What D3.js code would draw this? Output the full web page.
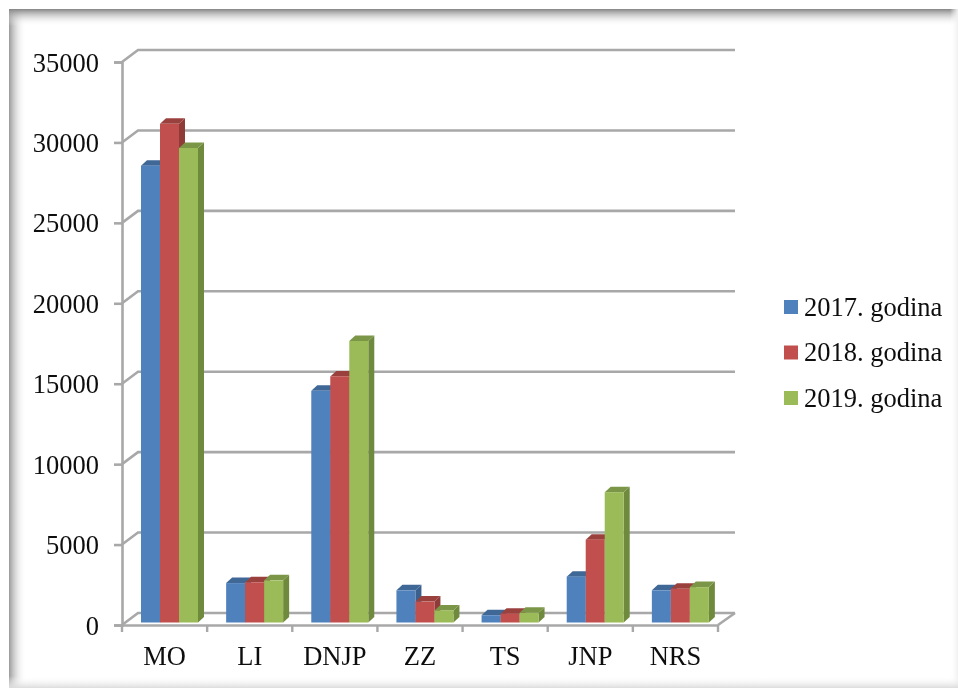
<!DOCTYPE html>
<html>
<head>
<meta charset="utf-8">
<script src="https://cdn.jsdelivr.net/npm/d3@7"></script>
<style>
html, body { margin: 0; padding: 0; background: #fff; }
svg { display: block; }
text { font-family: "Liberation Serif", serif; fill: #111; }
</style>
</head>
<body>
<script>
var categories = ['MO', 'LI', 'DNJP', 'ZZ', 'TS', 'JNP', 'NRS'];
var seriesNames = ['2017. godina', '2018. godina', '2019. godina'];
var seriesColors = ['#4f81bd', '#c0504d', '#9bbb59'];
var sideColors = ['#3b618e', '#8f3b39', '#6f8a3e'];
var topColors = ['#3f6797', '#9a403e', '#7c9647'];
var values2017 = [28400, 2450, 14400, 2000, 450, 2850, 2000];
var values2018 = [31000, 2500, 15300, 1300, 550, 5150, 2100];
var values2019 = [29500, 2620, 17500, 750, 600, 8100, 2200];
var yTicks = [0, 5000, 10000, 15000, 20000, 25000, 30000, 35000];

var width = 958, height = 688;
var depthX = 16, depthY = 12;   // back wall offset
var barDepthX = 6, barDepthY = 5.5;
var gridColor = '#a8a8a8';

var svg = d3.select('body').append('svg')
	.attr('width', width)
	.attr('height', height);

var defs = svg.append('defs');
defs.append('filter').attr('id', 'soft')
	.append('feGaussianBlur').attr('stdDeviation', 0.7);

function fade(id, x1, y1, x2, y2, from, to) {
	var g = defs.append('linearGradient').attr('id', id)
		.attr('x1', x1).attr('y1', y1).attr('x2', x2).attr('y2', y2);
	g.append('stop').attr('offset', 0).attr('stop-color', from);
	g.append('stop').attr('offset', 1).attr('stop-color', to);
}
fade('edgeLeft', 0, 0, 1, 0, '#9a9a9a', 'rgba(255,255,255,0)');
fade('edgeTop', 0, 0, 0, 1, '#858585', 'rgba(255,255,255,0)');
fade('edgeRight', 1, 0, 0, 0, '#f0f0f0', 'rgba(255,255,255,0)');
fade('edgeBottom', 0, 1, 0, 0, '#dcdcdc', 'rgba(255,255,255,0)');

// picture frame shadow
var frame = svg.append('g');
frame.append('rect').attr('x', 9).attr('y', 9).attr('width', 17).attr('height', height - 9).attr('fill', 'url(#edgeLeft)');
frame.append('rect').attr('x', 9).attr('y', 9).attr('width', width - 9).attr('height', 17).attr('fill', 'url(#edgeTop)');
frame.append('rect').attr('x', width - 8).attr('y', 9).attr('width', 8).attr('height', height - 9).attr('fill', 'url(#edgeRight)');
frame.append('rect').attr('x', 9).attr('y', height - 12).attr('width', width - 9).attr('height', 12).attr('fill', 'url(#edgeBottom)');

var x = d3.scaleBand().domain(categories).range([122, 718]);
var y = d3.scaleLinear().domain([0, 35000]).range([625, 62]);
var series = d3.scaleBand().domain(seriesNames).range([19, 76]);

var chart = svg.append('g').attr('filter', 'url(#soft)');

// back wall gridlines and the diagonals down to the front axis
var grid = chart.append('g').attr('stroke', gridColor).attr('stroke-width', 2.6).attr('fill', 'none');
grid.selectAll('path').data(yTicks).enter().append('path')
	.attr('d', function(d) {
		var path = d3.path();
		path.moveTo(x.range()[0], y(d));
		path.lineTo(x.range()[0] + depthX, y(d) - depthY);
		path.lineTo(x.range()[1] + depthX + 1, y(d) - depthY);
		return path.toString();
	});
var floor = d3.path();
floor.moveTo(x.range()[1], y(0));
floor.lineTo(x.range()[1] + depthX + 1, y(0) - depthY);
grid.append('path').attr('d', floor.toString());

// axes
var yAxis = d3.axisLeft(y).tickValues(yTicks).tickFormat(d3.format('d')).tickSize(8).tickPadding(15);
var xAxis = d3.axisBottom(x).tickSize(0).tickPadding(20);

var yG = chart.append('g').attr('transform', 'translate(122,0)').call(yAxis);
var xG = chart.append('g').attr('transform', 'translate(0,625)').call(xAxis);
[yG, xG].forEach(function(g) {
	g.selectAll('.domain, line').attr('stroke', gridColor).attr('stroke-width', 2.6);
	g.selectAll('text').attr('font-family', '"Liberation Serif", serif').attr('fill', '#000');
});
yG.selectAll('text').attr('font-size', 26.5).attr('dy', '0.34em');
xG.selectAll('text').attr('font-size', 26.5).attr('dy', '0.74em');

// category separators under the floor
xG.selectAll('line.sep').data(x.domain().concat(['end'])).enter().append('line')
	.attr('class', 'sep')
	.attr('x1', function(d) { return d === 'end' ? x.range()[1] : x(d); })
	.attr('x2', function(d) { return d === 'end' ? x.range()[1] : x(d); })
	.attr('y1', 0).attr('y2', 7)
	.attr('stroke', gridColor).attr('stroke-width', 2.4);

// bars
var allValues = [values2017, values2018, values2019];
var baseY = y(0) - 2.5;
var barH = function(v) { return y(0) - y(v); };

categories.forEach(function(cat, c) {
	var group = chart.append('g');
	seriesNames.forEach(function(name, s) {
		var v = allValues[s][c];
		var bx = x(cat) + series(name);
		var bw = series.bandwidth();
		var top = baseY - barH(v);

		group.append('path')
			.attr('fill', sideColors[s])
			.attr('d', 'M' + (bx + bw) + ' ' + top +
				'L' + (bx + bw + barDepthX) + ' ' + (top - barDepthY) +
				'L' + (bx + bw + barDepthX) + ' ' + (baseY - barDepthY) +
				'L' + (bx + bw) + ' ' + baseY + 'Z');
		group.append('path')
			.attr('fill', topColors[s])
			.attr('d', 'M' + bx + ' ' + top +
				'L' + (bx + barDepthX) + ' ' + (top - barDepthY) +
				'L' + (bx + bw + barDepthX) + ' ' + (top - barDepthY) +
				'L' + (bx + bw) + ' ' + top + 'Z');
		group.append('rect')
			.attr('x', bx).attr('y', top)
			.attr('width', bw).attr('height', baseY - top)
			.attr('fill', seriesColors[s]);
	});
});

// legend
var legendY = d3.scalePoint().domain(seriesNames).range([300, 391]);
var legend = svg.append('g').attr('filter', 'url(#soft)').selectAll('g').data(seriesNames).enter().append('g')
	.attr('transform', function(d) { return 'translate(784,' + legendY(d) + ')'; });
legend.append('rect').attr('width', 14).attr('height', 14)
	.attr('fill', function(d, i) { return seriesColors[i]; });
legend.append('text').attr('x', 20).attr('y', 15.5).attr('font-size', 26.5).attr('fill', '#000')
	.text(function(d) { return d; });
</script>
</body>
</html>
